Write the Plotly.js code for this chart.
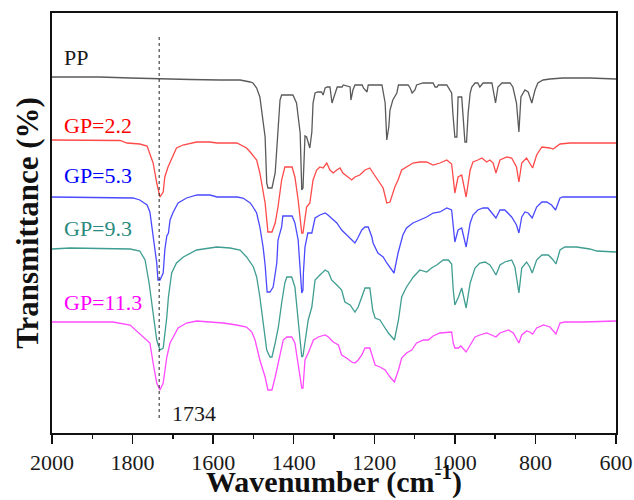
<!DOCTYPE html>
<html>
<head>
<meta charset="utf-8">
<script src="https://cdn.plot.ly/plotly-3.0.1.min.js"></script>
<style>html,body{margin:0;padding:0;background:#fff;}#chart{width:634px;height:500px;}</style>
</head>
<body>
<div id="chart"></div>
<script>
// Wavenumber (cm-1) and offset transmittance (arbitrary units) for each spectrum
const ppW = [2000,1881,1806,1732,1657,1583,1533,1508,1501,1492,1484,1471,1467,1464,1454,1446,1442,1434,1430,1402,1393,1384,1380,1377,1372,1368,1360,1355,1352,1347,1340,1331,1327,1322,1317,1310,1305,1297,1292,1280,1277,1260,1258,1253,1248,1230,1227,1218,1215,1181,1178,1173,1169,1164,1161,1154,1144,1140,1116,1111,1106,1099,1095,1079,1054,1049,1044,1041,1020,1017,1008,1005,1000,995,992,983,975,971,967,962,958,950,943,938,930,908,905,899,893,883,863,856,847,841,836,826,818,809,801,794,781,764,732,665,600];
const ppT = [356,356,355,354,353.5,353,353,351,350,345,336,296,250,245,245,260,286,333,338,338,330,300,243,245,297,296,285,301,330,340,341,341,338,345,346,346,330,341,346,346,348,346,333,343,348,348,345,341,348,348,341,330,293,306,323,333,340,348,348,345,340,343,348,350,350,346,346,348,348,346,340,320,296,296,336,336,291,291,320,340,346,350,350,346,350,350,343,330,346,350,350,346,330,301,336,343,341,330,343,350,353,354,355,355,354];

const gp22W = [2000,1881,1831,1814,1782,1764,1757,1749,1740,1732,1724,1720,1712,1703,1691,1675,1641,1608,1590,1541,1517,1508,1492,1484,1471,1464,1454,1446,1439,1430,1422,1404,1397,1389,1380,1377,1368,1360,1352,1343,1335,1327,1318,1310,1302,1293,1285,1278,1265,1256,1248,1236,1223,1211,1203,1194,1186,1178,1169,1161,1149,1141,1132,1120,1104,1087,1070,1054,1037,1020,1008,1000,992,983,972,962,955,943,933,921,913,905,898,888,871,859,847,841,834,822,814,807,797,784,764,756,739,714,600];
const gp22T = [293,293,292.5,290,289,287,280,270,250,236,241,256,266,275,285,288,291,291,290,290,285,281,273,260,230,201,201,210,226,253,266,266,256,233,200,200,226,230,253,263,266,265,270,263,260,263,265,260,256,253,256,258,263,265,260,255,250,245,230,231,246,253,263,266,270,271,271,268,270,273,269,240,256,258,236,263,271,273,275,271,273,270,260,273,276,275,266,251,270,275,270,265,278,286,285,284,289,290,290];

const gp53W = [2000,1881,1799,1782,1764,1757,1749,1744,1740,1737,1732,1724,1720,1715,1711,1707,1699,1687,1666,1640,1608,1590,1541,1526,1508,1501,1492,1484,1476,1471,1466,1459,1451,1442,1439,1430,1427,1404,1397,1389,1384,1380,1377,1376,1372,1365,1355,1347,1335,1322,1315,1306,1293,1281,1269,1256,1248,1241,1231,1223,1215,1206,1203,1191,1178,1169,1157,1151,1141,1132,1129,1120,1104,1087,1070,1054,1037,1020,1008,1000,992,983,972,962,955,943,930,918,909,898,888,876,859,847,841,834,826,818,808,797,784,772,760,750,739,732,600];
const gp53T = [236,235.5,235,233,228,221,196,183,170,153,153,160,183,197,200,213,221,230,235,238,238,236,236,235,230,226,220,206,186,168,141,141,146,170,193,206,217,217,210,193,163,140,143,160,186,200,200,215,218,220,218,215,210,203,198,193,190,195,203,206,206,196,190,180,176,170,163,160,180,196,198,205,210,213,216,220,221,225,223,191,203,205,186,210,218,223,225,225,220,215,223,223,216,208,200,216,221,220,215,226,231,231,228,223,235,236,236];

const gp93W = [2000,1955,1881,1806,1782,1769,1759,1749,1740,1732,1724,1715,1711,1703,1691,1674,1641,1591,1558,1533,1517,1500,1492,1484,1476,1467,1459,1454,1446,1438,1430,1422,1417,1405,1397,1389,1380,1377,1372,1364,1355,1347,1335,1322,1314,1306,1293,1281,1273,1260,1248,1240,1231,1223,1211,1204,1198,1186,1178,1165,1150,1140,1132,1120,1103,1087,1070,1058,1045,1029,1016,1008,1004,1000,991,983,972,962,950,938,925,913,905,898,888,876,859,851,841,834,822,814,808,797,784,768,756,749,739,727,698,665,648,600];
const gp93T = [184,185,184.5,184,182,173,150,120,93,83,85,116,136,160,170,176,183,186,185,183,176,166,156,136,110,83,76,76,90,106,130,150,156,156,146,116,76,77,93,113,126,153,158,163,161,153,148,143,131,128,121,126,136,145,145,123,115,113,108,100,93,113,136,146,156,163,161,165,168,173,173,169,143,128,136,145,125,150,165,170,171,168,163,158,168,171,173,166,140,165,171,166,160,173,178,178,173,169,183,186,186,184,182,181];

const gp113W = [2000,1930,1849,1806,1774,1757,1749,1740,1732,1724,1715,1707,1699,1687,1666,1641,1608,1575,1542,1517,1504,1496,1484,1471,1464,1454,1446,1438,1426,1417,1405,1397,1389,1380,1377,1372,1364,1351,1339,1322,1314,1302,1289,1281,1269,1256,1248,1240,1231,1223,1211,1204,1198,1186,1173,1161,1150,1140,1132,1120,1107,1095,1078,1066,1054,1037,1020,1008,1004,1000,991,985,972,962,950,938,921,909,898,888,867,855,847,841,834,822,814,807,797,780,764,749,739,727,681,600];
const gp113T = [111,111,111,108,96,90,70,50,43,50,76,90,96,105,110,112,111,110,108,106,101,93,73,56,43,43,56,70,93,96,96,90,70,45,45,73,80,93,96,98,96,91,88,78,75,71,70,73,78,85,85,75,68,66,63,56,51,63,75,80,83,90,93,93,97,100,101,101,90,85,85,87,81,88,96,98,100,98,96,100,103,100,95,90,98,102,101,99,105,108,106,99,110,111,111,112];

const seriesNames = ["PP","GP=2.2","GP=5.3","GP=9.3","GP=11.3"];
const lineColors = ["#5a5a5a","#ff4a4a","#4a4aff","#3f9d91","#ff4aff"];
const labelColors = ["#1a1a1a","#ff0000","#0000ff","#2b8a7e","#ff00ff"];
const labelY = [376,308,258,205,131];
const labelX = 1975;
const peakWavenumber = 1734;
const tickVals = [2000,1800,1600,1400,1200,1000,800,600];
const tickText = ['2000','1800','1600','1400','1200','1000','800','600'];
const minorTickVals = [1900,1700,1500,1300,1100,900,700];

const allW = [ppW,gp22W,gp53W,gp93W,gp113W];
const allT = [ppT,gp22T,gp53T,gp93T,gp113T];

const traces = allW.map((w,i)=>({
  x: w, y: allT[i], type:'scatter', mode:'lines', name: seriesNames[i],
  line:{color: lineColors[i], width:1.3}, hoverinfo:'skip'
}));

const serif = 'Liberation Serif, Times New Roman, serif';

const annotations = seriesNames.map((n,i)=>({
  x: labelX, y: labelY[i], xref:'x', yref:'y', text: n, showarrow:false,
  xanchor:'left', yanchor:'middle', font:{family:serif, size:22, color:labelColors[i]}
}));
annotations.push({x:1707, y:20, xref:'x', yref:'y', text:String(peakWavenumber), showarrow:false,
  xanchor:'left', yanchor:'middle', font:{family:serif, size:22, color:'#1a1a1a'}});
// x-axis title placed precisely below the tick labels
annotations.push({x:0.5, y:-0.16, xref:'paper', yref:'paper', xanchor:'center', yanchor:'bottom',
  text:'<b>Wavenumber (cm<sup>-1</sup>)</b>', showarrow:false, borderpad:0,
  font:{family:serif, size:30, color:'#111'}});

const layout = {
  width:634, height:500,
  margin:{l:52, r:18, t:13, b:67},
  paper_bgcolor:'#fff', plot_bgcolor:'#fff',
  showlegend:false,
  font:{family:serif, color:'#1a1a1a'},
  xaxis:{
    range:[2000,600], autorange:false,
    tickmode:'array', tickvals:tickVals, ticktext:tickText,
    ticks:'outside', ticklen:9, tickwidth:1.5, tickcolor:'#111',
    minor:{tickvals:minorTickVals, ticks:'outside', ticklen:4, tickwidth:1.5, tickcolor:'#111'},
    tickfont:{family:serif, size:22, color:'#1a1a1a'},
    showline:true, linecolor:'#111', linewidth:2, mirror:true,
    showgrid:false, zeroline:false
  },
  yaxis:{
    range:[0,420], autorange:false,
    showticklabels:false, ticks:'',
    showline:true, linecolor:'#111', linewidth:2, mirror:true,
    showgrid:false, zeroline:false,
    title:{text:'<b>Transmittance (%)</b>', font:{family:serif, size:31, color:'#111'}, standoff:2}
  },
  shapes:[{type:'line', xref:'x', yref:'y', x0:peakWavenumber, x1:peakWavenumber, y0:15, y1:396,
    line:{color:'#222', width:1, dash:'3px,3px'}}],
  annotations: annotations
};

Plotly.newPlot('chart', traces, layout, {displayModeBar:false, staticPlot:true});
</script>
</body>
</html>
